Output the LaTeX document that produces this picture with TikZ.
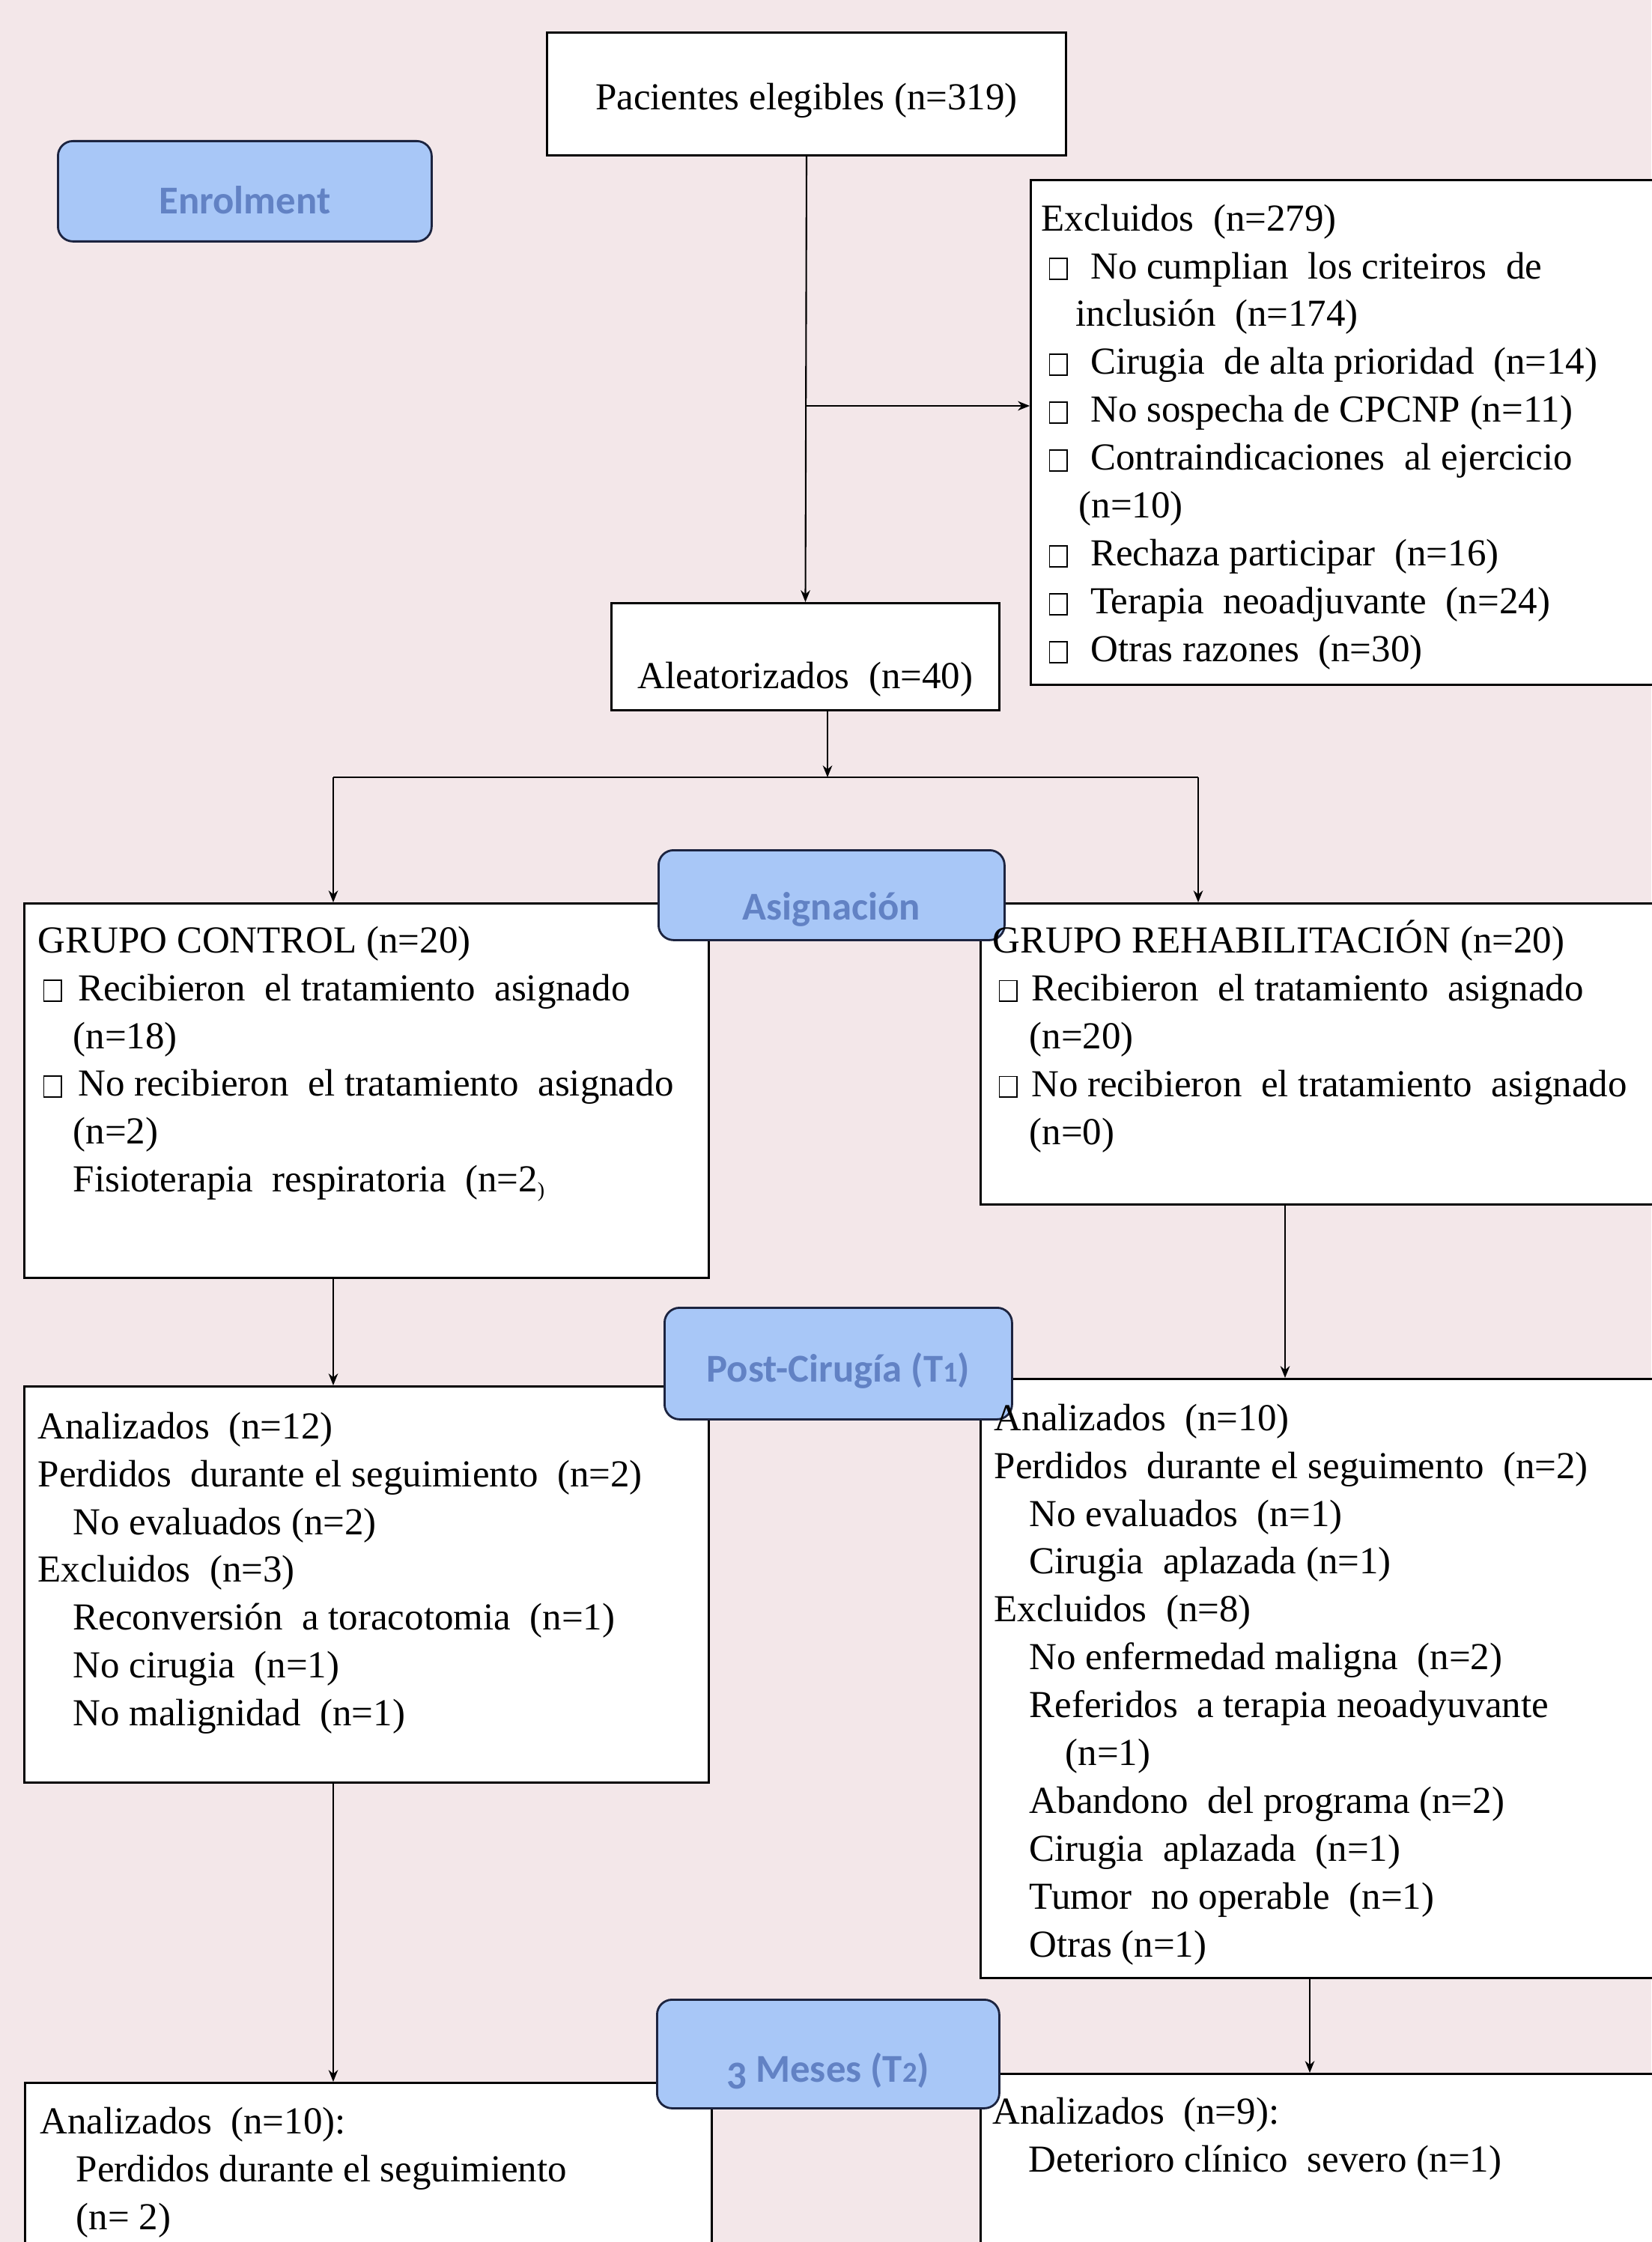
\documentclass[tikz,border=0pt]{standalone}
\usepackage{fontspec}
\setmainfont{Liberation Serif}
\newfontfamily\fuenteetapa{Carlito}
\usetikzlibrary{arrows.meta}

\definecolor{fondo}{RGB}{243,231,233}
\definecolor{etapaRelleno}{RGB}{168,199,247}
\definecolor{etapaTexto}{RGB}{98,130,196}
\definecolor{etapaBorde}{RGB}{28,36,64}

\newcommand\casilla{{\setlength\fboxsep{0pt}\setlength\fboxrule{0.5pt}\fbox{\rule{0pt}{0.26cm}\hspace{0.22cm}}}}
\newcommand\vin[2]{\hspace*{#1cm}\casilla\hspace{#2cm}}
\newcommand\sang[1]{\hspace*{#1cm}}
\newcommand\cifra[1]{{\fontsize{11}{11}\selectfont #1}}

\tikzset{
  caja/.style={draw=black, line width=0.85pt, fill=white, anchor=north west, inner sep=0pt,
    font=\fontsize{14.5}{18.2}\selectfont},
  etapa/.style={draw=etapaBorde, line width=0.8pt, fill=etapaRelleno, rounded corners=0.2cm,
    anchor=north west, inner sep=0pt, text=etapaTexto,
    font=\fuenteetapa\bfseries\fontsize{15}{18}\selectfont, text height=0.60cm, text depth=0cm},
  texto/.style={anchor=north west, align=left, inner sep=0pt, font=\fontsize{14.5}{18.2}\selectfont},
  flecha/.style={-{Stealth[length=4.5pt,width=3.6pt]}, line width=0.6pt},
  linea/.style={line width=0.6pt}
}

\begin{document}
\begin{tikzpicture}[x=1cm, y=-1cm]
    \fill[fondo] (0,0) rectangle (22.05,29.94);
    \useasboundingbox (0,0) rectangle (22.05,29.94);

    % cajas
    \node[caja, minimum width=6.93cm, minimum height=1.64cm, text height=0.52cm, text depth=0.1cm]
        (pacientes) at (7.29,0.42) {Pacientes elegibles (n=319)};
    \node[caja, minimum width=8.45cm, minimum height=6.74cm] (excluidos) at (13.75,2.39) {};
    \node[caja, minimum width=5.18cm, minimum height=1.43cm, text height=0.96cm, text depth=0.1cm]
        (aleatorizados) at (8.15,8.04) {Aleatorizados~ (n=40)};
    \node[caja, minimum width=9.14cm, minimum height=5.00cm] (control) at (0.31,12.05) {};
    \node[caja, minimum width=9.12cm, minimum height=4.02cm] (rehab) at (13.08,12.05) {};
    \node[caja, minimum width=9.14cm, minimum height=5.29cm] (controlT1) at (0.31,18.50) {};
    \node[caja, minimum width=9.12cm, minimum height=8.00cm] (rehabT1) at (13.08,18.40) {};
    \node[caja, minimum width=9.17cm, minimum height=2.30cm] (controlT2) at (0.32,27.80) {};
    \node[caja, minimum width=9.12cm, minimum height=2.42cm] (rehabT2) at (13.08,27.68) {};

    % conectores
    \coordinate (rama) at (10.75,5.42);
    \coordinate (reparto) at (11.05,10.38);
    \coordinate (izq) at (4.45,10.38);
    \coordinate (der) at (16.00,10.38);
    \coordinate (ejeR) at (17.16,17.50);
    \coordinate (ejeR2) at (17.49,27.00);

    \draw[flecha] (pacientes.south) -- (aleatorizados.north);
    \draw[flecha] (rama) -- (rama -| excluidos.west);
    \draw[flecha] (aleatorizados.south -| reparto) -- (reparto);
    \draw[linea] (izq) -- (der);
    \draw[flecha] (izq) -- (izq |- control.north);
    \draw[flecha] (der) -- (der |- rehab.north);
    \draw[flecha] (control.south -| izq) -- (controlT1.north -| izq);
    \draw[flecha] (rehab.south -| ejeR) -- (rehabT1.north -| ejeR);
    \draw[flecha, line width=0.45pt] (controlT1.south -| izq) -- (controlT2.north -| izq);
    \draw[flecha] (rehabT1.south -| ejeR2) -- (rehabT2.north -| ejeR2);

    % etapas
    \node[etapa, minimum width=4.99cm, minimum height=1.34cm] (enrolment) at (0.76,1.87) {Enrolment};
    \node[etapa, minimum width=4.62cm, minimum height=1.20cm, text height=0.66cm]
        (asignacion) at (8.78,11.34) {Asignación};
    \node[etapa, minimum width=4.64cm, minimum height=1.49cm, text height=0.50cm]
        (postcirugia) at (8.86,17.45) {Post-Cirugía (T\cifra{1})};
    \node[etapa, minimum width=4.57cm, minimum height=1.45cm, text height=0.75cm]
        (tresmeses) at (8.76,26.69) {\raisebox{-0.17em}{3} Meses (T\cifra{2})};

    % textos
    \node[texto] (excluidosT) at ([shift={(0.15,0.33)}]excluidos.north west) {Excluidos~ (n=279)\\
        \vin{0.10}{0.30}No cumplian~ los criteiros~ de\\
        \sang{0.46}inclusión~ (n=174)\\
        \vin{0.10}{0.30}Cirugia~ de alta prioridad~ (n=14)\\
        \vin{0.10}{0.30}No sospecha de CPCNP (n=11)\\
        \vin{0.10}{0.30}Contraindicaciones~ al ejercicio\\
        \sang{0.50}(n=10)\\
        \vin{0.10}{0.30}Rechaza participar~ (n=16)\\
        \vin{0.10}{0.30}Terapia~ neoadjuvante~ (n=24)\\
        \vin{0.10}{0.30}Otras razones~ (n=30)};
    \node[texto] (controlT) at ([shift={(0.19,0.31)}]control.north west) {GRUPO CONTROL (n=20)\\
        \vin{0.07}{0.21}Recibieron~ el tratamiento~ asignado\\
        \sang{0.47}(n=18)\\
        \vin{0.07}{0.21}No recibieron~ el tratamiento~ asignado\\
        \sang{0.47}(n=2)\\
        \sang{0.47}Fisioterapia~ respiratoria~ (n=2\raisebox{-0.3ex}{\footnotesize)}};
    \node[texto] (rehabT) at ([shift={(0.17,0.23)}]rehab.north west) {GRUPO REHABILITACIÓN (n=20)\\
        \vin{0.08}{0.18}Recibieron~ el tratamiento~ asignado\\
        \sang{0.49}(n=20)\\
        \vin{0.08}{0.18}No recibieron~ el tratamiento~ asignado\\
        \sang{0.49}(n=0)};
    \node[texto] (controlT1T) at ([shift={(0.19,0.35)}]controlT1.north west) {Analizados~ (n=12)\\
        Perdidos~ durante el seguimiento~ (n=2)\\
        \sang{0.47}No evaluados (n=2)\\
        Excluidos~ (n=3)\\
        \sang{0.47}Reconversión~ a toracotomia~ (n=1)\\
        \sang{0.47}No cirugia~ (n=1)\\
        \sang{0.47}No malignidad~ (n=1)};
    \node[texto] (rehabT1T) at ([shift={(0.19,0.34)}]rehabT1.north west) {Analizados~ (n=10)\\
        Perdidos~ durante el seguimento~ (n=2)\\
        \sang{0.47}No evaluados~ (n=1)\\
        \sang{0.47}Cirugia~ aplazada (n=1)\\
        Excluidos~ (n=8)\\
        \sang{0.47}No enfermedad maligna~ (n=2)\\
        \sang{0.47}Referidos~ a terapia neoadyuvante\\
        \sang{0.95}(n=1)\\
        \sang{0.47}Abandono~ del programa (n=2)\\
        \sang{0.47}Cirugia~ aplazada~ (n=1)\\
        \sang{0.47}Tumor~ no operable~ (n=1)\\
        \sang{0.47}Otras (n=1)};
    \node[texto] (controlT2T) at ([shift={(0.21,0.33)}]controlT2.north west) {Analizados~ (n=10):\\
        \sang{0.48}Perdidos durante el seguimiento\\
        \sang{0.48}(n= 2)};
    \node[texto] (rehabT2T) at ([shift={(0.17,0.32)}]rehabT2.north west) {Analizados~ (n=9):\\
        \sang{0.48}Deterioro clínico~ severo (n=1)};
\end{tikzpicture}
\end{document}
